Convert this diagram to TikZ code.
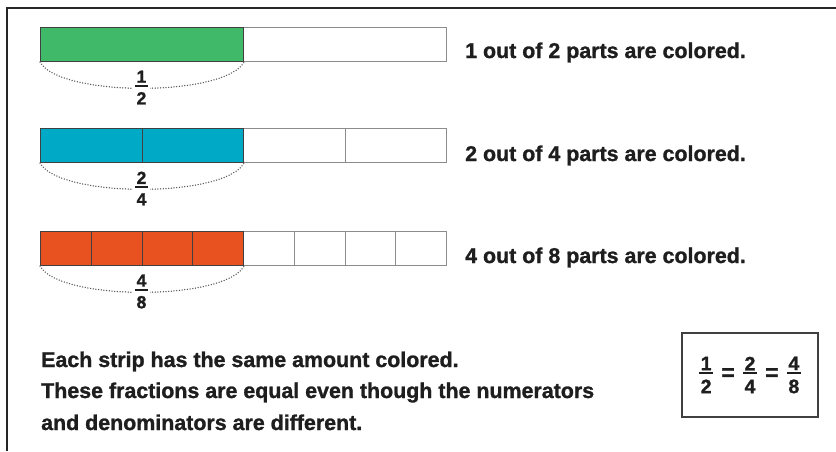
\documentclass[tikz,border=0pt]{standalone}
\usepackage{fontspec}
\setmainfont{Liberation Sans}[BoldFeatures={FakeBold=1.2}]
\definecolor{stripgreen}{HTML}{40BA68}
\definecolor{stripteal}{HTML}{00A9C5}
\definecolor{striporange}{HTML}{E85220}
\definecolor{inkgray}{HTML}{1E1E1E}
% stacked fraction: numerator, bar, denominator
\newcommand\fracbf[2]{$\vcenter{\offinterlineskip\halign{\hfil##\hfil\cr#1\cr
    \noalign{\kern2pt}\rule{0.7em}{1.9pt}\cr\noalign{\kern5.5pt}#2\cr}}$}
\newcommand\eqbf{{\fontsize{23}{23}\selectfont=}}
\begin{document}
\begin{tikzpicture}[x=1pt,y=-1pt,
    cell/.style={draw=black!45,line width=1.1pt,minimum height=34pt,inner sep=0pt,anchor=north west},
    part/.style={cell,draw=black!75},
    arcdots/.style={black!65,line width=1.5pt,line cap=round,dash pattern=on 0pt off 2.7pt},
    fraclbl/.style={fill=white,inner sep=2pt,text=inkgray,font=\fontsize{17.5}{20}\selectfont\bfseries},
    txt/.style={anchor=base west,inner sep=0pt,text=inkgray,font=\fontsize{21.4}{26}\selectfont\bfseries}]
    \useasboundingbox (0,0) rectangle (836,451);
    \draw[line width=2.2pt,black!85] (7,451) -- (7,8) -- (836,8);
    % strip of halves
    \node[cell,minimum width=203pt] (a2) at (243,27) {};
    \node[part,minimum width=203pt,fill=stripgreen] (a1) at (40,27) {};
    % strip of quarters
    \foreach \i in {3,4} \node[cell,minimum width=101.5pt] (b\i) at ({40+101.5*(\i-1)},128) {};
    \foreach \i in {1,2} \node[part,minimum width=101.5pt,fill=stripteal] (b\i) at ({40+101.5*(\i-1)},128) {};
    % strip of eighths
    \foreach \i in {5,...,8} \node[cell,minimum width=50.75pt] (c\i) at ({40+50.75*(\i-1)},231) {};
    \foreach \i in {1,...,4} \node[part,minimum width=50.75pt,fill=striporange] (c\i) at ({40+50.75*(\i-1)},231) {};
    % dotted arcs and fractions
    \draw[arcdots] (a1.south west) .. controls +(20,35) and +(-20,35) .. (a1.south east);
    \draw[arcdots] (b1.south west) .. controls +(20,35) and +(-20,35) .. (b2.south east);
    \draw[arcdots] (c1.south west) .. controls +(20,35) and +(-20,35) .. (c4.south east);
    \node[fraclbl] (fa) at (141.5,87.5) {\fracbf{1}{2}};
    \node[fraclbl] (fb) at (141.5,188.5) {\fracbf{2}{4}};
    \node[fraclbl] (fc) at (141.5,291.5) {\fracbf{4}{8}};
    % texts
    \node[txt] (ta) at (465,58) {1 out of 2 parts are colored.};
    \node[txt] (tb) at (465,161) {2 out of 4 parts are colored.};
    \node[txt] (tc) at (465,263) {4 out of 8 parts are colored.};
    \node[txt] (n1) at (41,367) {Each strip has the same amount colored.};
    \node[txt] (n2) at (41,398) {These fractions are equal even though the numerators};
    \node[txt] (n3) at (41,430) {and denominators are different.};
    % result box
    \node[draw=black!75,line width=1.4pt,minimum width=136pt,minimum height=84pt,text=inkgray,
        font=\fontsize{19.5}{22}\selectfont\bfseries] (eqbox) at (750,375)
        {\fracbf{1}{2}\hspace{8.4pt}\eqbf\hspace{8.4pt}\fracbf{2}{4}\hspace{8.4pt}\eqbf\hspace{8.4pt}\fracbf{4}{8}};
\end{tikzpicture}
\end{document}
